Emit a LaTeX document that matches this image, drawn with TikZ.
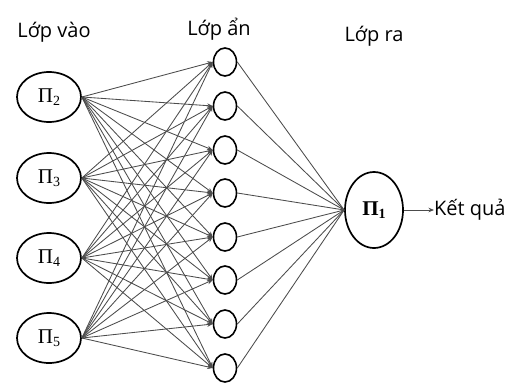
\documentclass[tikz,border=0pt]{standalone}
\usepackage{fontspec}
\setmainfont{Open Sans}
\newfontfamily\pifont{Liberation Serif}
\usetikzlibrary{arrows.meta,shapes.geometric}
\newcommand{\pilabel}[1]{\pifont Π\raisebox{-0.3ex}{\fontsize{14}{14}\selectfont #1}}
\begin{document}
\begin{tikzpicture}[x=1pt,y=-1pt,
  inbox/.style={draw=black,line width=1.7pt,ellipse,minimum width=64pt,minimum height=50pt,inner sep=0pt,font=\fontsize{21}{21}\selectfont},
  hidbox/.style={draw=black,line width=1.6pt,ellipse,minimum width=23pt,minimum height=28pt,inner sep=0pt},
  outbox/.style={draw=black,line width=1.7pt,ellipse,minimum width=58pt,minimum height=76pt,inner sep=0pt,font=\bfseries\fontsize{21}{21}\selectfont},
  layer/.style={font=\fontsize{20}{20}\selectfont,inner sep=0pt},
  link/.style={draw=black!70,line width=0.85pt},
  arrowlink/.style={link,-{Stealth[length=5.5pt,width=4.5pt]}}
]
\useasboundingbox (0,0) rectangle (518,388);
\fill[white] (0,0) rectangle (518,388);

% layer titles
\node[layer] (tin)  at (54,32) {Lớp vào};
\node[layer] (thid) at (219,29) {Lớp ẩn};
\node[layer] (tout) at (374,36) {Lớp ra};

% input layer
\foreach \i/\y/\k in {1/97/2,2/178/3,3/258/4,4/338/5}
  \node[inbox] (in\i) at (49,\y) {\pilabel{\k}};

% hidden layer
\foreach \j/\y in {1/62,2/106,3/150,4/193,5/237,6/280,7/324,8/368}
  \node[hidbox] (h\j) at (225,\y) {};

% output layer
\node[outbox] (out) at (374,210) {\pilabel{1}};
\node[layer,anchor=west] (res) at (434,210) {Kết quả};

% weights
\foreach \i in {1,...,4}
  \foreach \j in {1,...,8}
    \draw[arrowlink] (in\i.east) -- (h\j.west);
\foreach \j in {1,...,8}
  \draw[link] (h\j.east) -- (out.west);
\draw[arrowlink] (out.east) -- (res.west);
\end{tikzpicture}
\end{document}
